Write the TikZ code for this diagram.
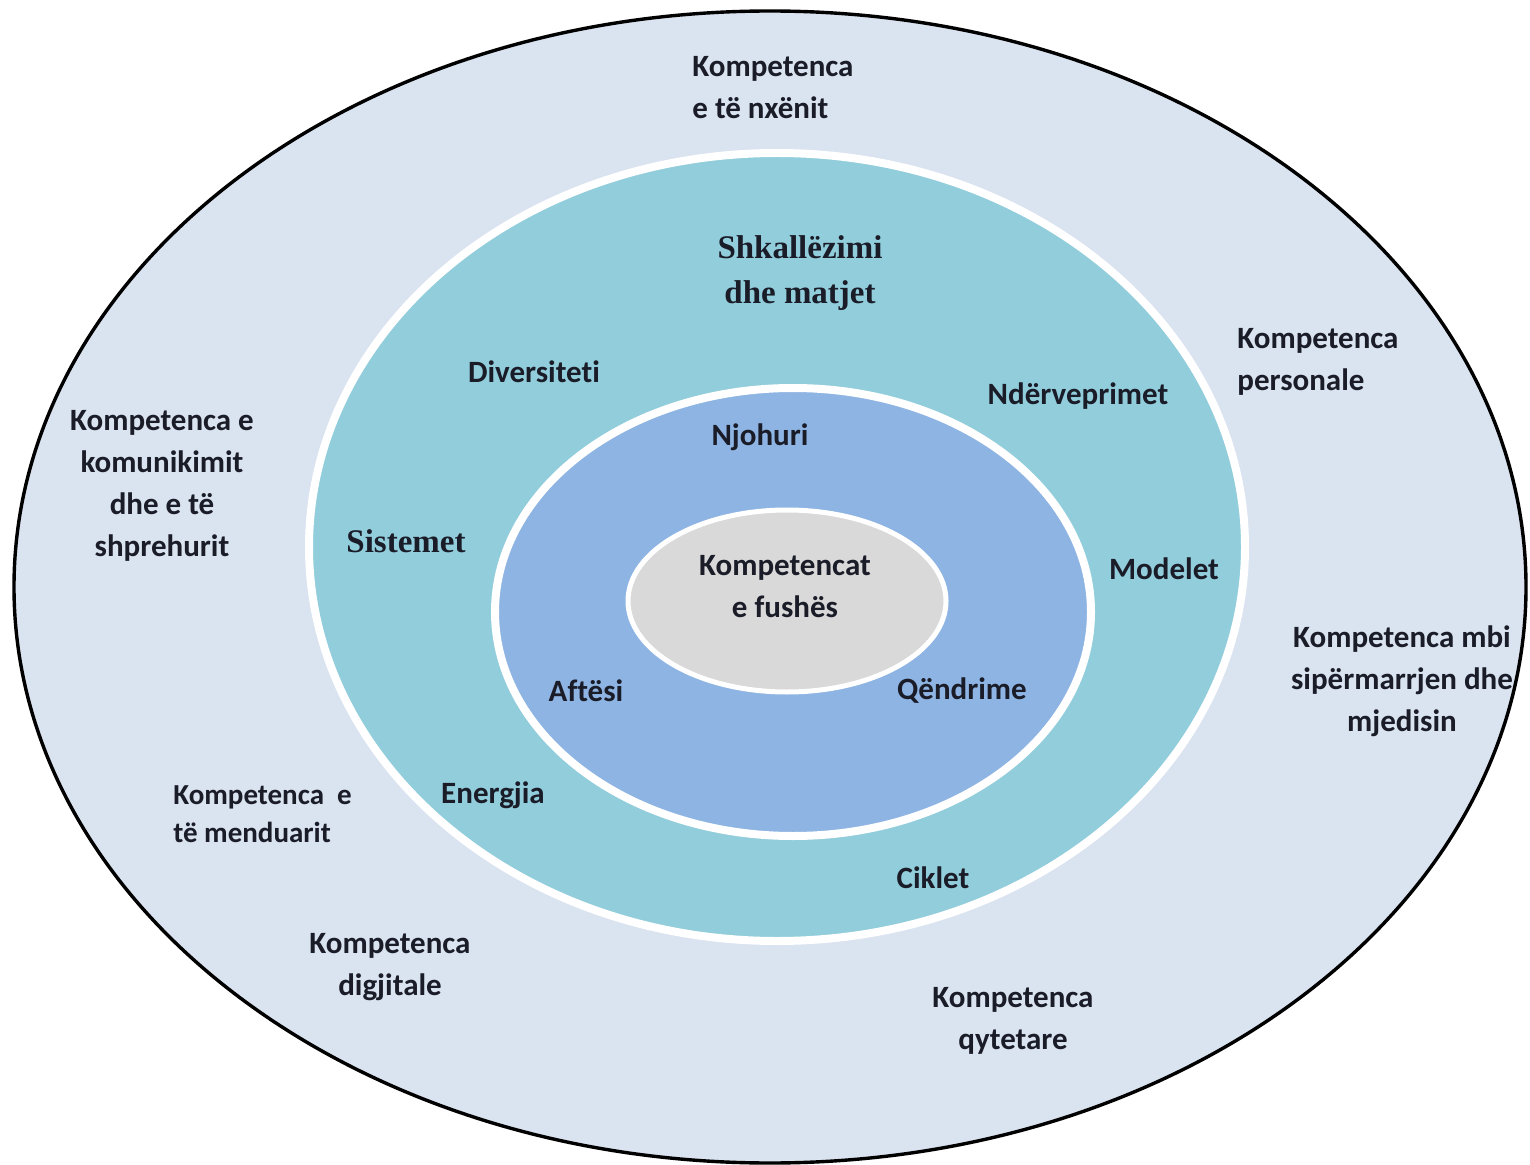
\documentclass[tikz,border=0pt]{standalone}
\usepackage{fontspec}
\setmainfont[Ligatures=NoCommon]{Carlito}
\newfontfamily\serifb{Liberation Serif}
\definecolor{outerfill}{HTML}{DAE3F0}
\definecolor{tealfill}{HTML}{92CDDC}
\definecolor{bluefill}{HTML}{8EB4E3}
\definecolor{greyfill}{HTML}{D9D9D9}
\definecolor{txt}{HTML}{1A1C28}
\begin{document}
\begin{tikzpicture}[x=0.5pt,y=-0.5pt,
  lbl/.style={text=txt,font=\fontsize{15.5}{21}\selectfont\bfseries,inner sep=0pt},
  slbl/.style={text=txt,font=\fontsize{16.5}{22.5}\selectfont\serifb\bfseries,inner sep=0pt},
  ring/.style={draw=white,line width=4pt}]
\useasboundingbox (0,0) rectangle (1530,1165);
\fill[white] (0,0) rectangle (1530,1165);
% ellipses
\draw[fill=outerfill,draw=black,line width=1.7pt] (770,587) ellipse [x radius=378pt,y radius=288pt];
\draw[ring,fill=tealfill] (777,547) ellipse [x radius=234pt,y radius=197pt];
\draw[ring,fill=bluefill] (793,612) ellipse [x radius=149pt,y radius=112pt];
\draw[draw=white,line width=2.5pt,fill=greyfill] (787,601) ellipse [x radius=79.5pt,y radius=45.5pt];
% outer labels
\node[lbl,align=left,anchor=west] (nx) at (692,88) {Kompetenca\\e të nxënit};
\node[lbl,align=left,anchor=west] (pe) at (1237,362) {Kompetenca\\personale};
\node[lbl,align=center] (ko) at (162,486) {Kompetenca e\\komunikimit\\dhe e të\\shprehurit};
\node[lbl,align=center] (si) at (1402,681) {Kompetenca mbi\\sipërmarrjen dhe\\mjedisin};
\node[lbl,align=left,anchor=west,font=\fontsize{14.5}{19}\selectfont\bfseries] (me) at (173,814) {Kompetenca~~e\\të menduarit};
\node[lbl,align=center] (di) at (390,967) {Kompetenca\\digjitale};
\node[lbl,align=center] (qy) at (1013,1021) {Kompetenca\\qytetare};
% teal ring labels
\node[slbl,align=center] (sh) at (800,273) {Shkallëzimi\\dhe matjet};
\node[lbl] (dv) at (534,372) {Diversiteti};
\node[lbl] (nd) at (1078,396) {Ndërveprimet};
\node[slbl] (st) at (406,541) {Sistemet};
\node[lbl] (mo) at (1164,569) {Modelet};
\node[lbl] (en) at (493,795) {Energjia};
\node[lbl] (ci) at (933,878) {Ciklet};
% blue ring labels
\node[lbl] (nj) at (760,437) {Njohuri};
\node[lbl] (af) at (586,691) {Aftësi};
\node[lbl] (qe) at (962,691) {Qëndrime};
% centre
\node[lbl,align=center] (kf) at (785,587) {Kompetencat\\e fushës};
\end{tikzpicture}
\end{document}
